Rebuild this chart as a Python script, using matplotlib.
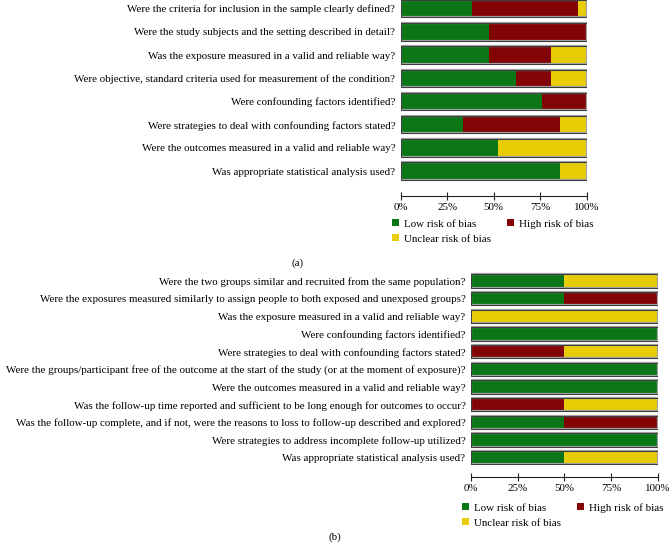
import matplotlib
matplotlib.use("Agg")
import matplotlib.pyplot as plt
from matplotlib.patches import Patch

plt.rcParams['font.family'] = ['Liberation Serif', 'DejaVu Serif']

# ---------------- data ----------------
a_questions = [
    "Were the criteria for inclusion in the sample clearly defined?",
    "Were the study subjects and the setting described in detail?",
    "Was the exposure measured in a valid and reliable way?",
    "Were objective, standard criteria used for measurement of the condition?",
    "Were confounding factors identified?",
    "Were strategies to deal with confounding factors stated?",
    "Were the outcomes measured in a valid and reliable way?",
    "Was appropriate statistical analysis used?",
]
a_low = [38.1, 47.6, 47.6, 61.9, 76.2, 33.3, 52.4, 85.7]
a_high = [57.1, 52.4, 33.3, 19.0, 23.8, 52.4, 0.0, 0.0]
a_unclear = [4.8, 0.0, 19.0, 19.0, 0.0, 14.3, 47.6, 14.3]

b_questions = [
    "Were the two groups similar and recruited from the same population?",
    "Were the exposures measured similarly to assign people to both exposed and unexposed groups?",
    "Was the exposure measured in a valid and reliable way?",
    "Were confounding factors identified?",
    "Were strategies to deal with confounding factors stated?",
    "Were the groups/participant free of the outcome at the start of the study (or at the moment of exposure)?",
    "Were the outcomes measured in a valid and reliable way?",
    "Was the follow-up time reported and sufficient to be long enough for outcomes to occur?",
    "Was the follow-up complete, and if not, were the reasons to loss to follow-up described and explored?",
    "Were strategies to address incomplete follow-up utilized?",
    "Was appropriate statistical analysis used?",
]
b_low = [50, 50, 0, 100, 0, 100, 100, 0, 50, 100, 50]
b_high = [0, 50, 0, 0, 50, 0, 0, 50, 50, 0, 0]
b_unclear = [50, 0, 100, 0, 50, 0, 0, 50, 0, 0, 50]

x_ticks = [0, 25, 50, 75, 100]
x_ticklabels = ["0%", "25%", "50%", "75%", "100%"]
legend_labels = ["Low risk of bias", "Unclear risk of bias", "High risk of bias"]

GREEN = "#0b7616"
RED = "#820404"
YELLOW = "#e8cc06"

W, H = 669, 548
fig = plt.figure(figsize=(W / 100, H / 100), dpi=100)


def px_axes(left, top, right, bottom):
    return fig.add_axes([left / W, 1 - bottom / H, (right - left) / W, (bottom - top) / H])


def draw_panel(ax, questions, low, high, unclear, bar_h, outward, fs):
    for s in ['top', 'right', 'left']:
        ax.spines[s].set_visible(False)
    ax.spines['bottom'].set_position(('outward', outward))
    ax.spines['bottom'].set_linewidth(0.8)
    ax.spines['bottom'].set_color('#222222')
    n = len(questions)
    ys = list(range(n))
    left_high = [l for l in low]
    left_unc = [l + h for l, h in zip(low, high)]
    totals = [l + h + u for l, h, u in zip(low, high, unclear)]
    ax.barh(ys, low, height=bar_h, color=GREEN, edgecolor='none')
    ax.barh(ys, high, left=left_high, height=bar_h, color=RED, edgecolor='none')
    ax.barh(ys, unclear, left=left_unc, height=bar_h, color=YELLOW, edgecolor='none')
    ax.barh(ys, totals, height=bar_h, fill=False, edgecolor='#a0a0a0', linewidth=1.6)
    ax.barh(ys, totals, height=bar_h, fill=False, edgecolor='#2a2a2a', linewidth=0.6)
    ax.set_xlim(0, 100)
    ax.set_ylim(n - 0.5, -0.5)
    ax.set_yticks(ys)
    ax.set_yticklabels(questions, fontsize=fs)
    ax.tick_params(axis='y', length=0, pad=4)
    ax.set_xticks(x_ticks)
    ax.set_xticklabels(x_ticklabels, fontsize=fs)
    ax.tick_params(axis='x', direction='inout', length=6, width=0.8, pad=2,
                   color='#222222', labelsize=fs)
    ax.patch.set_alpha(0)


def add_legend(x, y, fs, colsp):
    handles = [Patch(facecolor=GREEN, edgecolor='none'),
               Patch(facecolor=YELLOW, edgecolor='none'),
               Patch(facecolor=RED, edgecolor='none')]
    fig.legend(handles, legend_labels, loc='upper left',
               bbox_to_anchor=(x / W, 1 - y / H), ncol=2, frameon=False,
               fontsize=fs, handlelength=0.6, handleheight=0.6,
               handletextpad=0.5, columnspacing=colsp, labelspacing=0.5,
               borderpad=0, borderaxespad=0)


FA = 7.95
FB = 7.95

ax_a = px_axes(400.7, -3.0, 586.7, 182.7)
draw_panel(ax_a, a_questions, a_low, a_high, a_unclear, 0.75, 9.5, FA)
add_legend(392, 219, FA, 1.45)
fig.text(298 / W, 1 - 263 / H, "(a)", fontsize=FA, ha='center', va='center')

ax_b = px_axes(471.0, 272.2, 657.7, 466.5)
draw_panel(ax_b, b_questions, b_low, b_high, b_unclear, 0.76, 7.5, FB)
add_legend(462, 503, FB, 1.45)
fig.text(335 / W, 1 - 537 / H, "(b)", fontsize=FB, ha='center', va='center')

fig.savefig("out.png", dpi=100)
